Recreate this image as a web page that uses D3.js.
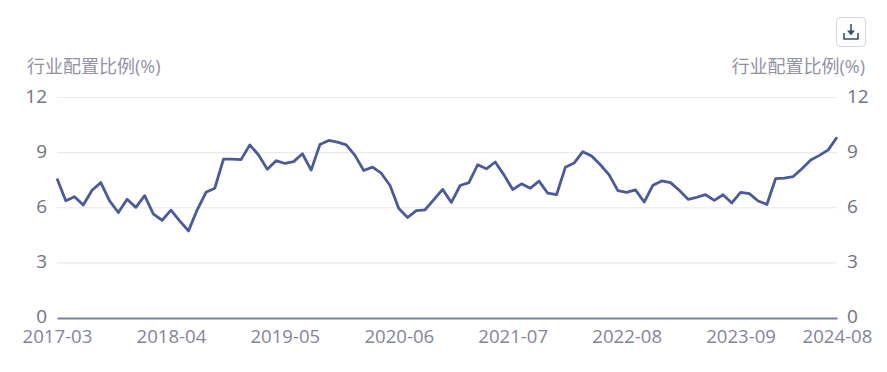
<!DOCTYPE html>
<html>
<head>
<meta charset="utf-8">
<script src="https://cdn.jsdelivr.net/npm/d3@7"></script>
<style>
  html, body { margin: 0; padding: 0; background: #fff; }
  svg { display: block; }
  text { font-family: "Open Sans", "Noto Sans CJK SC", sans-serif; }
</style>
</head>
<body>
<div id="chart"></div>
<script>
// Chart Data
const axisTitle = "行业配置比例(%)";
const yTicks = [0, 3, 6, 9, 12];
const xTicks = ["2017-03", "2018-04", "2019-05", "2020-06", "2021-07", "2022-08", "2023-09", "2024-08"];
const months = d3.timeMonth.range(new Date(2017, 2, 1), new Date(2024, 8, 1)).map(d3.timeFormat("%Y-%m"));
const values = [
  7.59, 6.38, 6.60, 6.15, 6.95, 7.37, 6.37, 5.74, 6.46, 6.02,
  6.66, 5.65, 5.32, 5.87, 5.29, 4.74, 5.89, 6.84, 7.06, 8.65,
  8.65, 8.62, 9.42, 8.87, 8.10, 8.56, 8.41, 8.51, 8.94, 8.05,
  9.44, 9.66, 9.57, 9.42, 8.85, 8.03, 8.21, 7.88, 7.21, 5.96,
  5.47, 5.84, 5.89, 6.44, 7.00, 6.29, 7.21, 7.37, 8.34, 8.12,
  8.49, 7.79, 6.99, 7.30, 7.06, 7.45, 6.79, 6.71, 8.20, 8.43,
  9.05, 8.82, 8.34, 7.79, 6.93, 6.84, 6.97, 6.31, 7.23, 7.46,
  7.37, 6.95, 6.46, 6.57, 6.71, 6.40, 6.71, 6.26, 6.84, 6.77,
  6.37, 6.18, 7.59, 7.61, 7.70, 8.12, 8.60, 8.85, 9.15, 9.84
];

// Initialise Dimensions
const w = 887, h = 372;
const plotLeft = 57, plotRight = 837, plotTop = 97.5, plotBottom = 318;

// Render SVG On DOM
const svg = d3.select("#chart").append("svg").attr("width", w).attr("height", h);

// Setup Scales & Axes
const xScale = d3.scalePoint().domain(months).range([plotLeft, plotRight]);
const yScale = d3.scaleLinear().domain([0, 12]).range([plotBottom, plotTop]);
const xAxis = d3.axisBottom(xScale).tickValues(xTicks).tickSize(0).tickPadding(0);
const yAxisLeft = d3.axisLeft(yScale).tickValues(yTicks).tickSize(0).tickPadding(10);
const yAxisRight = d3.axisRight(yScale).tickValues(yTicks).tickSize(0).tickPadding(10);

// Grid Lines
svg.append("g").selectAll("line").data(yTicks.filter((d) => { return d > 0; })).enter().append("line")
  .attr("x1", plotLeft).attr("x2", plotRight)
  .attr("y1", (d) => { return yScale(d); }).attr("y2", (d) => { return yScale(d); })
  .attr("stroke", "#e9e9f4").attr("stroke-width", 1.2);

// Draw Axes
const gLeft = svg.append("g").attr("transform", "translate(" + plotLeft + ", 0)").call(yAxisLeft);
const gRight = svg.append("g").attr("transform", "translate(" + plotRight + ", 0)").call(yAxisRight);
const gBottom = svg.append("g").attr("transform", "translate(0, " + plotBottom + ")").call(xAxis);

[gLeft, gRight].forEach((g) => {
  g.select(".domain").remove();
  g.selectAll("text").attr("font-size", 19).attr("fill", "#73727f").attr("dy", "4.5px");
});
gBottom.select(".domain").attr("stroke", "#7f7ea3").attr("stroke-width", 2);
gBottom.selectAll("text").attr("font-size", 18.6).attr("fill", "#85849b").attr("dy", "25px");

// Draw Line
const line = d3.line().x((d, i) => { return xScale(months[i]); }).y((d) => { return yScale(d); });
svg.append("path").datum(values).attr("d", line)
  .attr("fill", "none").attr("stroke", "#4a5a9b").attr("stroke-width", 2.8).attr("stroke-linejoin", "round");

// Axis Titles
svg.append("text").text(axisTitle).attr("x", 27).attr("y", 73)
  .attr("font-size", 18).attr("fill", "#9392a6");
svg.append("text").text(axisTitle).attr("x", 865).attr("y", 73).attr("text-anchor", "end")
  .attr("font-size", 18).attr("fill", "#9392a6");

// Download Button
const btn = svg.append("g").attr("transform", "translate(836.5, 17.5)");
btn.append("rect").attr("width", 29).attr("height", 29).attr("rx", 4)
  .attr("fill", "#fff").attr("stroke", "#d6d6ea");
btn.append("path").attr("d", "M7.5 15.5V21.5H21.5V15.5").attr("fill", "none").attr("stroke", "#3f4a78").attr("stroke-width", 1.6);
btn.append("path").attr("d", "M14.5 6.5V16").attr("fill", "none").attr("stroke", "#3f4a78").attr("stroke-width", 1.6);
btn.append("path").attr("d", "M10.5 13H18.5L14.5 18Z").attr("fill", "#3f4a78");
</script>
</body>
</html>
